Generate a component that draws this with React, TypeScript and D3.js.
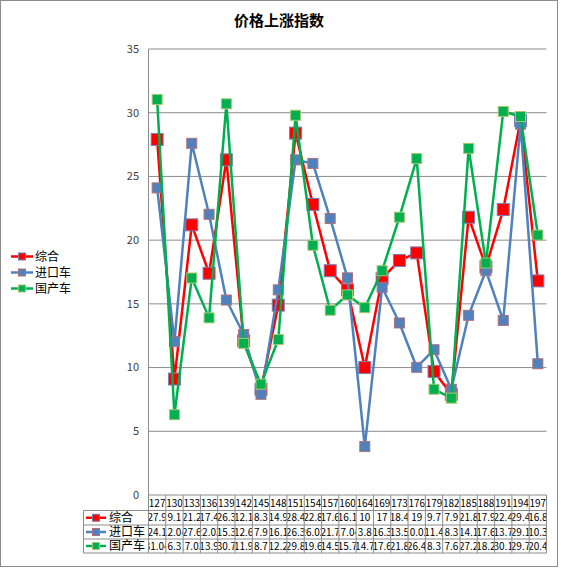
import React from "react";
import * as d3 from "d3";

const title = "价格上涨指数";
const categories = ["127","130","133","136","139","142","145","148","151","154","157","160","164","169","173","176","179","182","185","188","191","194","197"];
const seriesNames = ["综合", "进口车", "国产车"];
const composite = [27.9, 9.1, 21.2, 17.4, 26.3, 12.1, 8.3, 14.9, 28.4, 22.8, 17.6, 16.1, 10, 17, 18.4, 19.0, 9.7, 7.9, 21.8, 17.9, 22.4, 29.4, 16.8];
const imported = [24.1, 12.04, 27.6, 22.03, 15.3, 12.6, 7.9, 16.1, 26.3, 26.02, 21.7, 17.04, 3.8, 16.3, 13.5, 10.02, 11.4, 8.3, 14.1, 17.6, 13.7, 29.1, 10.3];
const domestic = [31.04, 6.3, 17.03, 13.9, 30.7, 11.9, 8.7, 12.2, 29.8, 19.6, 14.5, 15.7, 14.7, 17.6, 21.8, 26.4, 8.3, 7.6, 27.2, 18.2, 30.1, 29.7, 20.4];
const yTicks = [0, 5, 10, 15, 20, 25, 30, 35];

const seriesValues = [composite, imported, domestic];
const colors = ["#FF0000", "#4F81BD", "#00B050"];
const borders = ["#7A7FB8", "#B0707A", "#A8C870"];
const markerSizes = [12, 10, 10];

const FONT = "'Noto Sans CJK SC', 'DejaVu Sans', sans-serif";

export default function App() {
  const W = 561, H = 570;
  const plotL = 148.5, plotR = 546.5, plotT = 49, plotB = 495;
  const x = d3.scaleBand<string>().domain(categories).range([plotL, plotR]).padding(0);
  const y = d3.scaleLinear().domain([0, 35]).range([plotB, plotT]);
  const bw = x.bandwidth();
  const cx = (c: string) => (x(c) as number) + bw / 2;

  const line = d3.line<number>()
    .x((_, i) => cx(categories[i]))
    .y((v) => y(v));

  const rowLines = [510.5, 525, 539, 553];
  const tableLeft = 83.5;
  const gridColor = "#8C8C8C";

  return (
    <div style={{ position: "fixed", left: 0, top: 0 }}>
      <svg width={W} height={H} style={{ display: "block", background: "#fff" }}>
        <defs>
          {categories.map((c, i) => (
            <clipPath id={`clip-${i}`} key={c}>
              <rect x={(x(c) as number) + 0.5} y={495} width={bw - 1} height={60} />
            </clipPath>
          ))}
        </defs>
        <rect x={0.5} y={0.5} width={557} height={566} fill="#fff" stroke="#8C8C8C" />
        <text x={279} y={26} textAnchor="middle" fontFamily={FONT} fontSize={15} fontWeight="bold" fill="#000">{title}</text>

        {/* grid */}
        {yTicks.map((t) => (
          <g key={t}>
            <line x1={plotL} x2={plotR} y1={y(t)} y2={y(t)} stroke={gridColor} strokeWidth={1} />
            <text x={139} y={y(t)} dy="0.35em" textAnchor="end" fontFamily={FONT} fontSize={11} fill="#404040">{t}</text>
          </g>
        ))}
        <line x1={plotL} x2={plotL} y1={plotT} y2={plotB} stroke={gridColor} />

        {/* series */}
        {seriesValues.map((vals, s) => (
          <g key={s}>
            <path d={line(vals) || ""} fill="none" stroke={colors[s]} strokeWidth={2.5} strokeLinejoin="round" />
            {vals.map((v, i) => (
              <rect key={i} x={cx(categories[i]) - markerSizes[s] / 2} y={y(v) - markerSizes[s] / 2}
                width={markerSizes[s]} height={markerSizes[s]} fill={colors[s]} stroke={borders[s]} strokeWidth={1} />
            ))}
          </g>
        ))}

        {/* data table */}
        {categories.map((c) => (
          <line key={c} x1={(x(c) as number)} x2={(x(c) as number)} y1={plotB} y2={rowLines[3]} stroke={gridColor} />
        ))}
        <line x1={plotR} x2={plotR} y1={plotB} y2={rowLines[3]} stroke={gridColor} />
        {rowLines.map((ry, k) => (
          <line key={k} x1={tableLeft} x2={plotR} y1={ry} y2={ry} stroke={gridColor} />
        ))}
        <line x1={tableLeft} x2={tableLeft} y1={rowLines[0]} y2={rowLines[3]} stroke={gridColor} />
        {categories.map((c, i) => (
          <text key={c} clipPath={`url(#clip-${i})`} x={cx(c)} y={503} dy="0.35em" textAnchor="middle" fontFamily={FONT} fontSize={10} fill="#000">{c}</text>
        ))}
        {seriesValues.map((vals, s) => {
          const rc = (rowLines[s] + rowLines[s + 1]) / 2;
          return (
            <g key={s}>
              <line x1={86} x2={106} y1={rc} y2={rc} stroke={colors[s]} strokeWidth={2.5} />
              <rect x={92.5} y={rc - 3.5} width={7} height={7} fill={colors[s]} stroke={borders[s]} />
              <text x={109} y={rc} dy="0.35em" fontFamily={FONT} fontSize={12} fill="#000">{seriesNames[s]}</text>
              {vals.map((v, i) => (
                <text key={i} clipPath={`url(#clip-${i})`} x={cx(categories[i])} y={rc} dy="0.35em" textAnchor="middle" fontFamily={FONT} fontSize={10} fill="#000">{String(v)}</text>
              ))}
            </g>
          );
        })}

        {/* legend */}
        {seriesNames.map((n, s) => {
          const ly = 256.5 + s * 16;
          return (
            <g key={n}>
              <line x1={11} x2={33} y1={ly} y2={ly} stroke={colors[s]} strokeWidth={2.5} />
              <rect x={18.5} y={ly - 3.5} width={7} height={7} fill={colors[s]} stroke={borders[s]} />
              <text x={35} y={ly} dy="0.35em" fontFamily={FONT} fontSize={12} fill="#000">{n}</text>
            </g>
          );
        })}
      </svg>
    </div>
  );
}
